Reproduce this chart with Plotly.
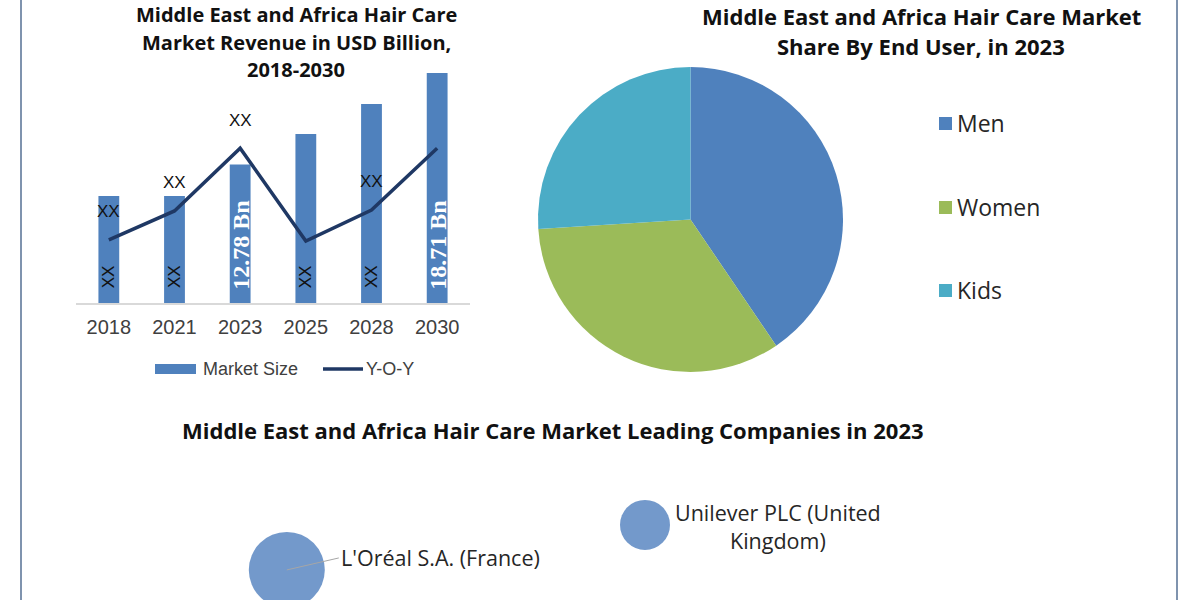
import plotly.graph_objects as go

# ---------------- data ----------------
years = ["2018", "2021", "2023", "2025", "2028", "2030"]
market_size = [8.71, 8.71, 11.27, 13.75, 16.19, 18.71]
bar_labels = ["XX", "XX", "12.78 Bn", "XX", "XX", "18.71 Bn"]
yoy = [5.13, 7.49, 12.6, 5.04, 7.57, 12.6]
yoy_labels = ["XX", "XX", "XX", "", "XX", ""]

segments = ["Men", "Women", "Kids"]
segment_share = [40.5, 33.5, 26.0]
segment_colors = ["#4F81BD", "#9BBB59", "#4BACC6"]

companies = ["L'Oréal S.A. (France)", "Unilever PLC (United<br>Kingdom)"]
company_x = [2.39, 5.375]
company_y = [1.67, 4.17]
company_size = [76, 50]

title_bar = ["Middle East and Africa Hair Care", "Market Revenue in USD Billion,", "2018-2030"]
title_pie = ["Middle East and Africa Hair Care Market", "Share By End User, in 2023"]
title_bubble = "Middle East and Africa Hair Care Market Leading Companies in 2023"

W, H = 1200, 600
BAR_COLOR = "#4F81BD"
LINE_COLOR = "#1F3864"
TITLE_FONT = "Open Sans"
TEXT_COLOR = "#262626"

def px(x):
    return x / W

def py(y):
    return 1 - y / H

fig = go.Figure()

fig.add_trace(go.Bar(
    x=years, y=market_size, name="Market Size",
    marker=dict(color=BAR_COLOR, line=dict(width=0)),
    xaxis="x", yaxis="y", showlegend=False, hoverinfo="x+y",
))
fig.add_trace(go.Scatter(
    x=years, y=yoy, name="Y-O-Y", mode="lines",
    line=dict(color=LINE_COLOR, width=3.5),
    xaxis="x", yaxis="y2", showlegend=False,
))

fig.add_trace(go.Pie(
    labels=segments, values=segment_share, sort=False, direction="clockwise",
    rotation=0, marker=dict(colors=segment_colors, line=dict(width=0)),
    textinfo="none", showlegend=False,
    domain=dict(x=[px(538), px(843)], y=[py(372), py(67)]),
))

fig.add_trace(go.Scatter(
    x=company_x, y=company_y, mode="markers",
    marker=dict(size=company_size, sizemode="diameter", color="#7399CB",
                opacity=1, line=dict(width=0)),
    text=companies, hoverinfo="text",
    xaxis="x3", yaxis="y3", showlegend=False,
))

annotations = []
# titles
bar_title_y = [0, 42, 69]
for i, line in enumerate(title_bar):
    annotations.append(dict(x=px(296), y=py(bar_title_y[i]), xref="paper", yref="paper",
                            text="<b>%s</b>" % line, showarrow=False,
                            xanchor="center", yanchor="top" if i == 0 else "middle",
                            borderpad=0,
                            font=dict(family=TITLE_FONT, size=20, color="#111111")))
pie_title_y = [0, 46]
for i, line in enumerate(title_pie):
    annotations.append(dict(x=px(921), y=py(pie_title_y[i]), xref="paper", yref="paper",
                            text="<b>%s</b>" % line, showarrow=False,
                            xanchor="center", yanchor="top" if i == 0 else "middle",
                            borderpad=0,
                            font=dict(family=TITLE_FONT, size=22, color="#111111")))
annotations.append(dict(x=px(553), y=py(430), xref="paper", yref="paper",
                        text="<b>%s</b>" % title_bubble, showarrow=False,
                        xanchor="center", yanchor="middle",
                        font=dict(family=TITLE_FONT, size=22, color="#111111")))

# bar inside labels (category index used as x)
for i, lab in enumerate(bar_labels):
    bn = "Bn" in lab
    annotations.append(dict(
        x=i, y=0, xref="x", yref="y", text="<b>%s</b>" % lab if bn else lab,
        showarrow=False, textangle=-90, xanchor="center", yanchor="bottom",
        yshift=11 if bn else 13,
        font=dict(family="Liberation Serif" if bn else "Liberation Sans",
                  size=24 if bn else 17, color="white" if bn else "#111111")))

# line labels
for i, (v, lab) in enumerate(zip(yoy, yoy_labels)):
    if lab:
        annotations.append(dict(x=i, y=v, xref="x", yref="y2", text=lab, showarrow=False,
                                yshift=28, xanchor="center", yanchor="middle",
                                font=dict(family="Liberation Sans", size=17, color="#111111")))

# bar legend
annotations.append(dict(x=px(201), y=py(369), xref="paper", yref="paper", text="Market Size",
                        showarrow=False, xanchor="left", yanchor="middle",
                        font=dict(family="Liberation Sans", size=18, color="#404040")))
annotations.append(dict(x=px(364), y=py(369), xref="paper", yref="paper", text="Y-O-Y",
                        showarrow=False, xanchor="left", yanchor="middle",
                        font=dict(family="Liberation Sans", size=18, color="#404040")))

# pie legend
legend_y = [123, 207, 290]
shapes = []
for seg, col, ly in zip(segments, segment_colors, legend_y):
    annotations.append(dict(x=px(955), y=py(ly), xref="paper", yref="paper", text=seg,
                            showarrow=False, xanchor="left", yanchor="middle",
                            font=dict(family=TITLE_FONT, size=23, color=TEXT_COLOR)))
    shapes.append(dict(type="rect", xref="paper", yref="paper",
                       x0=px(939), x1=px(952), y0=py(ly + 7), y1=py(ly - 6),
                       fillcolor=col, line=dict(width=0)))

shapes.append(dict(type="rect", xref="paper", yref="paper",
                   x0=px(155), x1=px(196), y0=py(374), y1=py(364),
                   fillcolor=BAR_COLOR, line=dict(width=0)))
shapes.append(dict(type="line", xref="paper", yref="paper",
                   x0=px(323), x1=px(363), y0=py(369), y1=py(369),
                   line=dict(color=LINE_COLOR, width=3.5)))

# company labels
annotations.append(dict(x=company_x[0], y=company_y[0], xref="x3", yref="y3",
                        text=companies[0], showarrow=True, arrowhead=0, arrowwidth=1,
                        arrowcolor="#A6A6A6", ax=52, ay=-12, xanchor="left", yanchor="middle",
                        font=dict(family=TITLE_FONT, size=21.5, color=TEXT_COLOR)))
annotations.append(dict(x=company_x[1], y=company_y[1], xref="x3", yref="y3",
                        text=companies[1], showarrow=False, xanchor="left", yanchor="middle",
                        xshift=28, yshift=-2, align="center",
                        font=dict(family=TITLE_FONT, size=21.5, color=TEXT_COLOR)))

# frame lines
for xv in [21, 1177]:
    shapes.append(dict(type="line", xref="paper", yref="paper", x0=px(xv), x1=px(xv),
                       y0=0, y1=1, line=dict(color="#7F93AE", width=2)))

ymax = 250 / 12.29
fig.update_layout(
    width=W, height=H, margin=dict(l=0, r=0, t=0, b=0),
    paper_bgcolor="white", plot_bgcolor="white",
    bargap=0.683, showlegend=False,
    xaxis=dict(domain=[px(76), px(470)], type="category", showline=True,
               linecolor="#D9D9D9", linewidth=1.5, ticks="", showgrid=False, zeroline=False,
               tickfont=dict(family="Liberation Sans", size=20, color="#404040"),
               ticklabelstandoff=5, anchor="y", fixedrange=True),
    yaxis=dict(domain=[py(303), py(53)], range=[0, ymax], visible=False, anchor="x",
               fixedrange=True),
    yaxis2=dict(overlaying="y", range=[0, ymax], visible=False, anchor="x", fixedrange=True),
    xaxis3=dict(domain=[0, 1], range=[0, 10], visible=False, anchor="y3", fixedrange=True),
    yaxis3=dict(domain=[0, 0.3], range=[0, 10], visible=False, anchor="x3", fixedrange=True),
    annotations=annotations, shapes=shapes,
)

fig.write_html("out.html", post_script="document.body.style.margin='0';")
